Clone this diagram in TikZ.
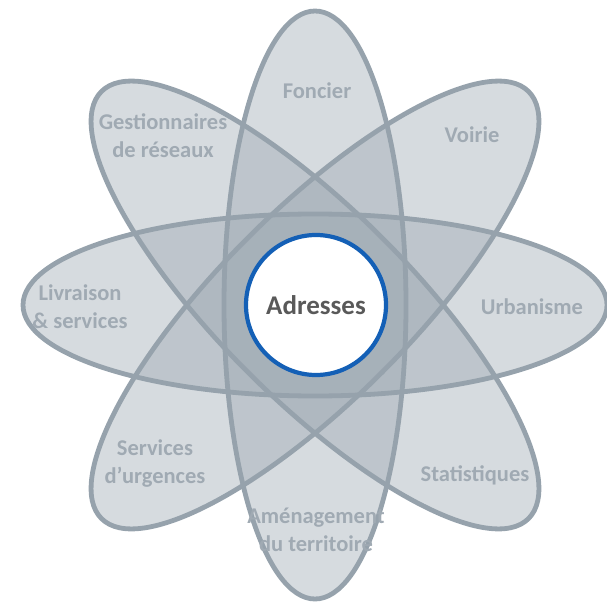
\documentclass[tikz,border=0pt]{standalone}
\usepackage{fontspec}
\setmainfont{Carlito}
\definecolor{petalfill}{RGB}{153,165,175}
\definecolor{petaledge}{RGB}{150,162,172}
\definecolor{petaltext}{RGB}{160,170,179}
\definecolor{hubblue}{RGB}{20,96,182}
\definecolor{hubtext}{RGB}{89,89,89}

\begin{document}
\begin{tikzpicture}[x=1pt,y=-1pt,
  petal/.style={rotate around={#1:(315,305)}},
  petallabel/.style={font=\bfseries\fontsize{22.5}{28}\selectfont,text=petaltext,align=center}]
\useasboundingbox (0,0) rectangle (607,604);
% the four petals, fills first and outlines on top
\foreach \a/\ra/\rb in {0/292/91,45/302/95,90/294/91,135/302/95}
  \fill[petalfill,fill opacity=0.4,petal=\a] (315,305) ellipse (\ra pt and \rb pt);
\foreach \a/\ra/\rb in {0/292/91,45/302/95,90/294/91,135/302/95}
  \draw[petaledge,line width=4.8pt,petal=\a] (315,305) ellipse (\ra pt and \rb pt);
\node[circle,draw=hubblue,line width=4.2pt,fill=white,minimum size=140pt,inner sep=0pt,
  font=\bfseries\fontsize{27}{30}\selectfont,text=hubtext] (adresses) at (316,305) {Adresses};
\node[petallabel] (foncier) at (317,91) {Foncier};
\node[petallabel] (voirie) at (472,135) {Voirie};
\node[petallabel] (urbanisme) at (532,307) {Urbanisme};
\node[petallabel] (statistiques) at (475,475) {Statistiques};
\node[petallabel] (amenagement) at (316,530) {Aménagement\\du territoire};
\node[petallabel] (urgences) at (155,464) {Services\\d’urgences};
\node[petallabel] (livraison) at (80,307) {Livraison\\\& services};
\node[petallabel] (reseaux) at (163,136) {Gestionnaires\\de réseaux};
\end{tikzpicture}
\end{document}
